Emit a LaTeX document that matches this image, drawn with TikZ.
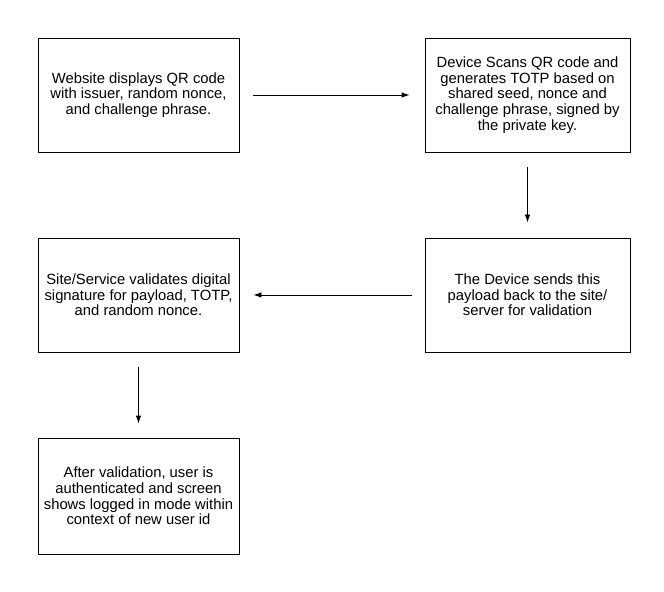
\documentclass[tikz,border=0pt]{standalone}
\usepackage{fontspec}
\setmainfont{Liberation Sans}
\usetikzlibrary{arrows.meta}
\begin{document}
\begin{tikzpicture}[x=1bp,y=-1bp,
  box/.style={draw, line width=0.9bp, minimum width=201bp, minimum height=114bp, align=center, inner sep=0pt,
    font=\fontsize{14.8bp}{15.6bp}\selectfont},
  conn/.style={line width=0.9bp, -{Latex[length=8bp,width=5.5bp]}}]
\useasboundingbox (0,0) rectangle (664,592);
\node[box] (b1) at (138.5,95) {Website displays QR code\\with issuer, random nonce,\\and challenge phrase.};
\node[box, minimum width=205bp] (b2) at (527.5,95) {Device Scans QR code and\\generates TOTP based on\\shared seed, nonce and\\challenge phrase, signed by\\the private key.};
\node[box] (b3) at (138.5,295) {Site/Service validates digital\\signature for payload, TOTP,\\and random nonce.};
\node[box, minimum width=205bp] (b4) at (527.5,295) {The Device sends this\\payload back to the site/\\server for validation};
\node[box, minimum height=116bp] (b5) at (138.5,496) {After validation, user is\\authenticated and screen\\shows logged in mode within\\context of new user id};
\draw[conn] ([xshift=14bp]b1.east) -- ([xshift=-15bp]b2.west);
\draw[conn] ([yshift=-15bp]b2.south) -- ([yshift=15bp]b4.north);
\draw[conn] ([xshift=-13bp]b4.west) -- ([xshift=14bp]b3.east);
\draw[conn] ([yshift=-15bp]b3.south) -- ([yshift=14bp]b5.north);
\end{tikzpicture}
\end{document}
